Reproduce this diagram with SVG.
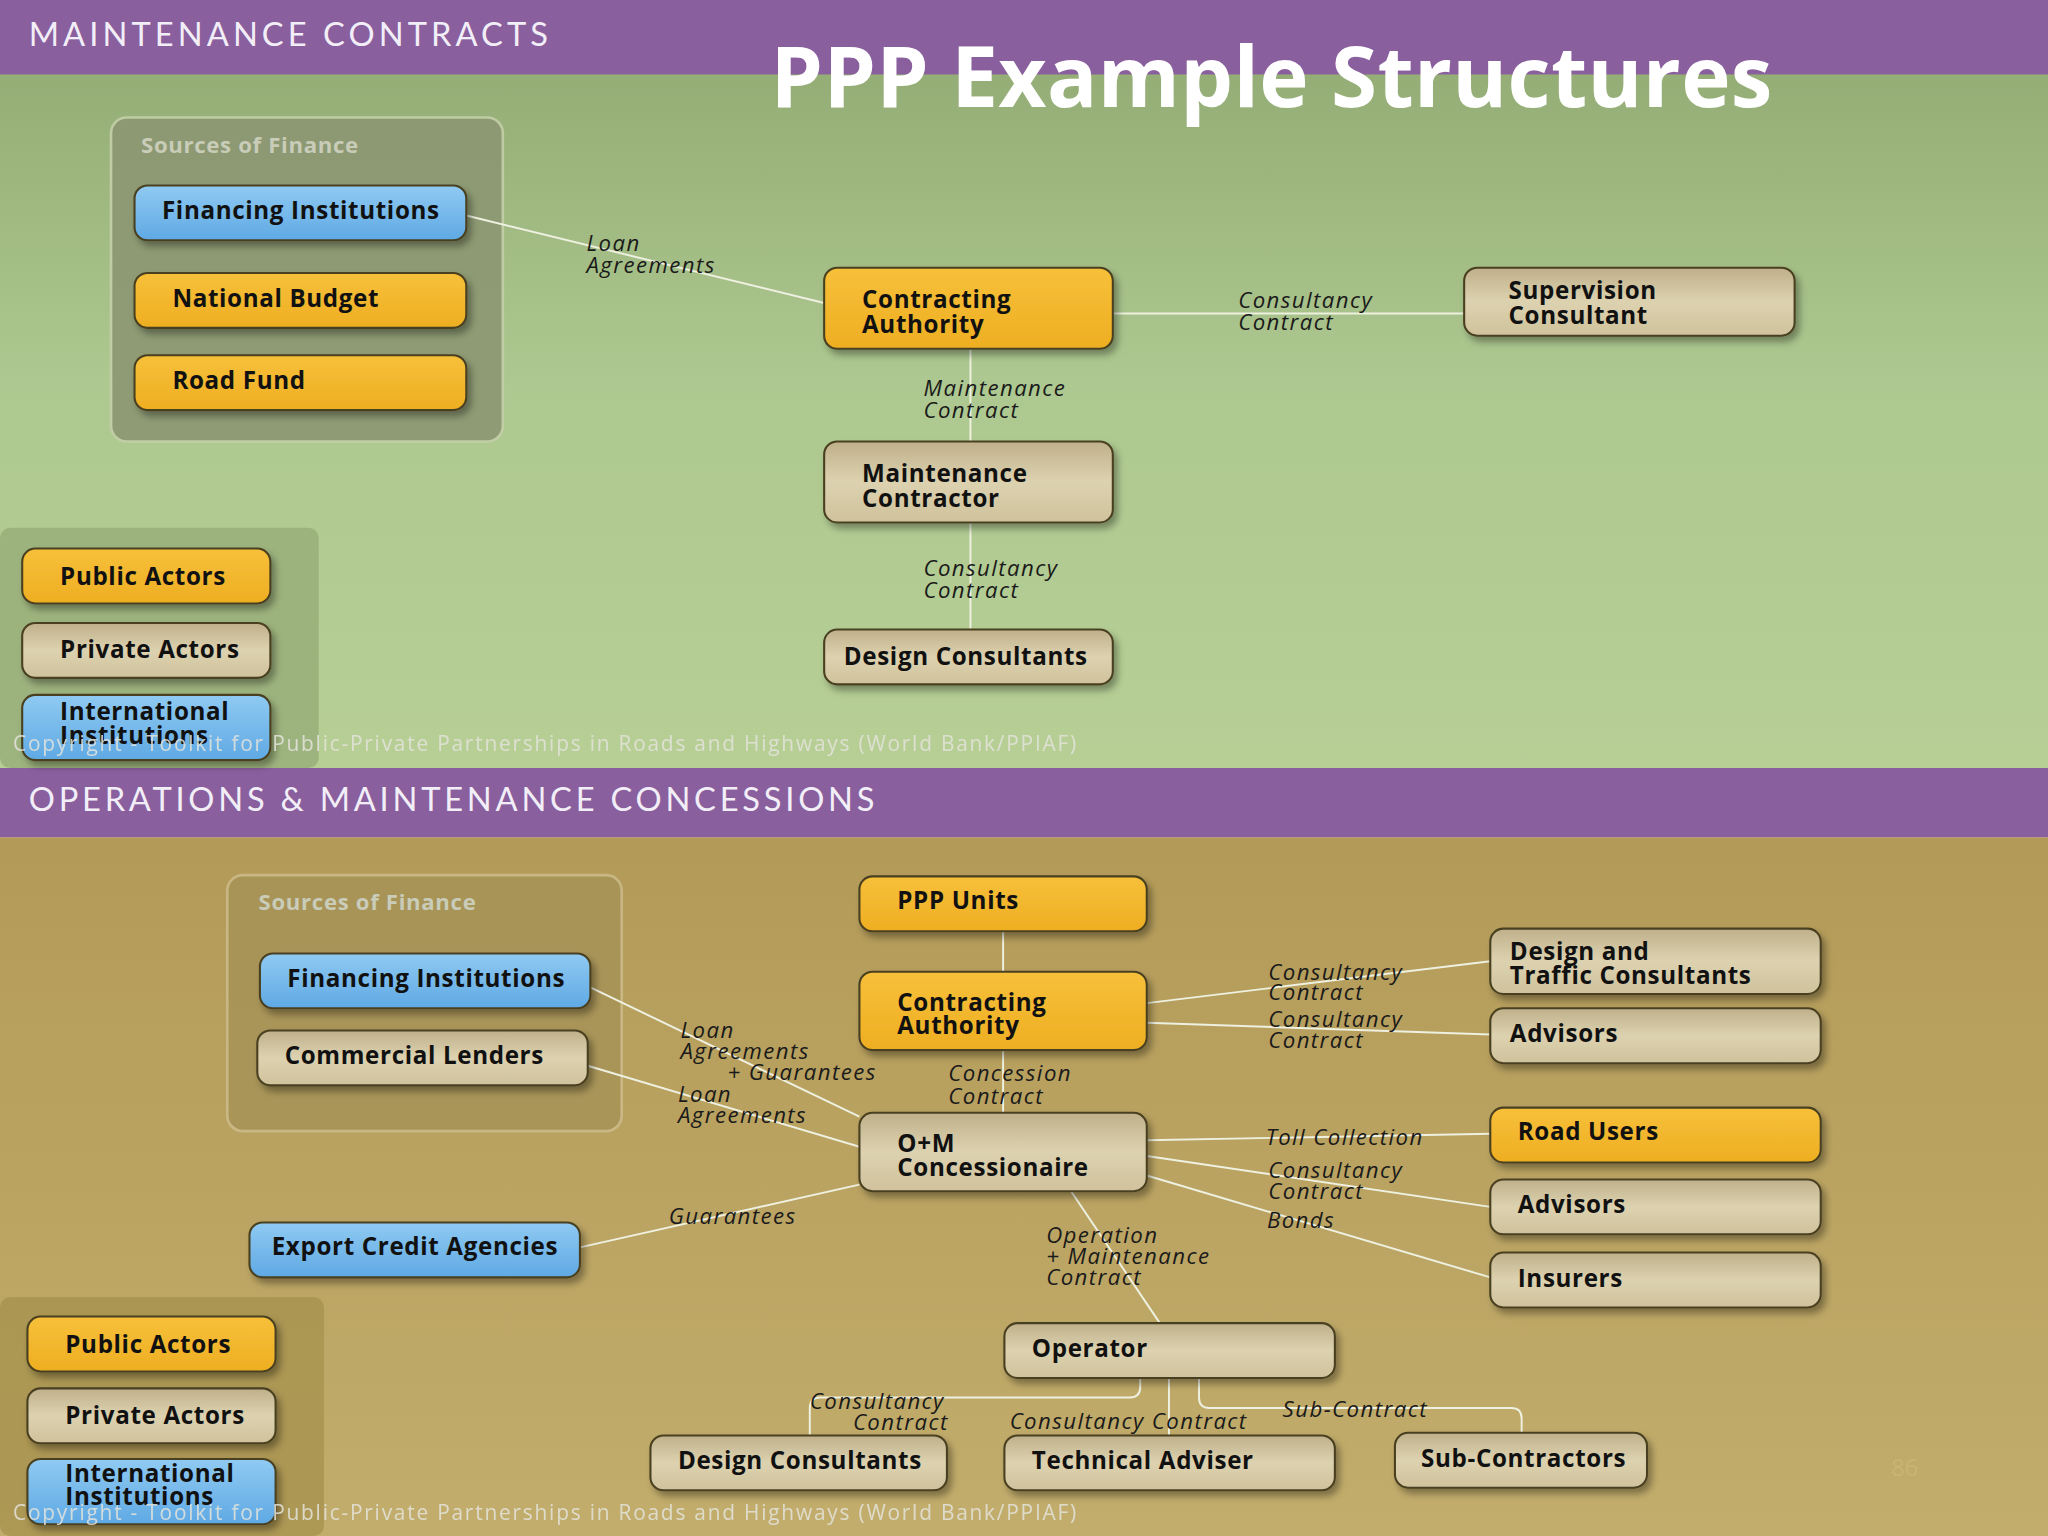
<svg xmlns="http://www.w3.org/2000/svg" width="2048" height="1536" viewBox="0 0 2048 1536">
<defs>
<linearGradient id="gTop" x1="0" y1="0" x2="0" y2="1"><stop offset="0" stop-color="#8fa770"/><stop offset="0.5" stop-color="#adc890"/><stop offset="1" stop-color="#b7cf95"/></linearGradient>
<linearGradient id="gBot" x1="0" y1="0" x2="0" y2="1"><stop offset="0" stop-color="#b39a58"/><stop offset="1" stop-color="#c2ad6c"/></linearGradient>
<linearGradient id="or" x1="0" y1="0" x2="0" y2="1"><stop offset="0" stop-color="#f7c03a"/><stop offset="1" stop-color="#eeae22"/></linearGradient>
<linearGradient id="bl" x1="0" y1="0" x2="0" y2="1"><stop offset="0" stop-color="#8fcaf2"/><stop offset="1" stop-color="#5fa9e4"/></linearGradient>
<linearGradient id="tn" x1="0" y1="0" x2="0" y2="1"><stop offset="0" stop-color="#bfb08a"/><stop offset="0.5" stop-color="#ddd2b0"/><stop offset="1" stop-color="#cfc29c"/></linearGradient>
<filter id="sh" x="-10%" y="-20%" width="130%" height="160%"><feDropShadow dx="3" dy="4" stdDeviation="3" flood-color="#000" flood-opacity="0.35"/></filter>
</defs>
<style>
.n rect{stroke:#4a4020;stroke-width:1.6;filter:url(#sh)}
.o rect{fill:url(#or)} .b rect{fill:url(#bl)} .t rect{fill:url(#tn)}
.n text{font-family:"Open Sans","Liberation Sans",sans-serif;font-weight:700;font-size:18.5px;letter-spacing:0.5px;fill:#111}
.c line,.c path{stroke:#eef0e0;stroke-width:1.5;fill:none}
.l{font-family:"Open Sans","Liberation Sans",sans-serif;font-style:italic;font-size:17px;letter-spacing:1.1px;fill:#1a1a1a}
.h{font-family:"Lato","Open Sans",sans-serif;font-size:25px;fill:#f2eef8;letter-spacing:0.5px}
.cp{font-family:"Open Sans","Liberation Sans",sans-serif;font-size:16px;fill:#e4e4dc;opacity:0.85}
.sf{font-family:"Open Sans","Liberation Sans",sans-serif;font-weight:700;font-size:17px;letter-spacing:0.5px;fill:#c8ccb8}
</style>
<g transform="scale(1.30612)">
<rect x="0" y="0" width="1568" height="588" fill="url(#gTop)"/>
<rect x="0" y="0" width="1568" height="57" fill="#8a5f9e"/>
<text class="h" x="22" y="35" textLength="398">MAINTENANCE CONTRACTS</text>
<rect x="0" y="641" width="1568" height="535" fill="url(#gBot)"/>
<rect x="0" y="588" width="1568" height="53" fill="#8a5f9e"/>
<text class="h" x="22" y="621" textLength="648">OPERATIONS &amp; MAINTENANCE CONCESSIONS</text>
<text x="590" y="82" font-family="'Open Sans','Liberation Sans',sans-serif" font-weight="700" font-size="64" fill="#fff" textLength="767">PPP Example Structures</text>

<rect x="85" y="90" width="300" height="248" rx="12" fill="#8c9772" stroke="#c4cfa8" stroke-width="2" opacity="0.9"/>
<text class="sf" x="108" y="117">Sources of Finance</text>
<rect x="0" y="404" width="244" height="184" rx="8" fill="#97ad78" opacity="0.8"/>
<rect x="174" y="670" width="302" height="196" rx="12" fill="#a89458" stroke="#cbbb88" stroke-width="2" opacity="0.9"/>
<text class="sf" x="198" y="697" fill="#d8ceb0">Sources of Finance</text>
<rect x="0" y="993" width="248" height="183" rx="8" fill="#a8924f" opacity="0.8"/>

<g class="c" id="connectors">
<line x1="357" y1="165" x2="631" y2="232"/>
<line x1="852" y1="240" x2="1121" y2="240"/>
<line x1="743" y1="267" x2="743" y2="338"/>
<line x1="743" y1="400" x2="743" y2="482"/>
<line x1="768" y1="713" x2="768" y2="744"/>
<line x1="878" y1="768" x2="1141" y2="736"/>
<line x1="878" y1="783" x2="1141" y2="792"/>
<line x1="768" y1="804" x2="768" y2="852"/>
<line x1="452" y1="756" x2="658" y2="855"/>
<line x1="450" y1="816" x2="658" y2="878"/>
<line x1="444" y1="955" x2="658" y2="907"/>
<line x1="878" y1="873" x2="1141" y2="868"/>
<line x1="878" y1="885" x2="1141" y2="924"/>
<line x1="878" y1="900" x2="1141" y2="978"/>
<line x1="820" y1="912" x2="888" y2="1013"/>
<path d="M873 1055 V1062 Q873 1070 865 1070 H628 Q620 1070 620 1078 V1099"/>
<line x1="895" y1="1055" x2="895" y2="1099"/>
<path d="M918 1055 V1070 Q918 1078 926 1078 H1157 Q1165 1078 1165 1086 V1097"/>
</g>
<text class="l" x="449" y="192">Loan</text><text class="l" x="449" y="209">Agreements</text>
<text class="l" x="948" y="236">Consultancy</text><text class="l" x="948" y="253">Contract</text>
<text class="l" x="707" y="303">Maintenance</text><text class="l" x="707" y="320">Contract</text>
<text class="l" x="707" y="441">Consultancy</text><text class="l" x="707" y="458">Contract</text>
<text class="l" x="971" y="750">Consultancy</text><text class="l" x="971" y="766">Contract</text>
<text class="l" x="971" y="786">Consultancy</text><text class="l" x="971" y="802">Contract</text>
<text class="l" x="726" y="828">Concession</text><text class="l" x="726" y="845">Contract</text>
<text class="l" x="521" y="795">Loan</text><text class="l" x="521" y="811">Agreements</text><text class="l" x="557" y="827">+ Guarantees</text>
<text class="l" x="519" y="844">Loan</text><text class="l" x="519" y="860">Agreements</text>
<text class="l" x="512" y="937">Guarantees</text>
<text class="l" x="969" y="877">Toll Collection</text>
<text class="l" x="971" y="902">Consultancy</text><text class="l" x="971" y="918">Contract</text>
<text class="l" x="970" y="940">Bonds</text>
<text class="l" x="801" y="952">Operation</text><text class="l" x="801" y="968">+ Maintenance</text><text class="l" x="801" y="984">Contract</text>
<text class="l" x="620" y="1079">Consultancy</text><text class="l" x="653" y="1095">Contract</text>
<text class="l" x="773" y="1094">Consultancy Contract</text>
<text class="l" x="982" y="1085">Sub-Contract</text>

<g id="t-fi" class="n b"><rect x="103" y="142" width="254" height="42" rx="10"/><text x="124" y="168">Financing Institutions</text></g>
<g id="t-nb" class="n o"><rect x="103" y="209" width="254" height="42" rx="10"/><text x="132" y="235">National Budget</text></g>
<g id="t-rf" class="n o"><rect x="103" y="272" width="254" height="42" rx="10"/><text x="132" y="298">Road Fund</text></g>
<g id="t-ca" class="n o"><rect x="631" y="205" width="221" height="62" rx="10"/><text x="660" y="236">Contracting</text><text x="660" y="255">Authority</text></g>
<g id="t-sc" class="n t"><rect x="1121" y="205" width="253" height="52" rx="10"/><text x="1155" y="229">Supervision</text><text x="1155" y="248">Consultant</text></g>
<g id="t-mc" class="n t"><rect x="631" y="338" width="221" height="62" rx="10"/><text x="660" y="369">Maintenance</text><text x="660" y="388">Contractor</text></g>
<g id="t-dc" class="n t"><rect x="631" y="482" width="221" height="42" rx="10"/><text x="646" y="509">Design Consultants</text></g>
<g id="t-pa" class="n o"><rect x="17" y="420" width="190" height="42" rx="10"/><text x="46" y="448">Public Actors</text></g>
<g id="t-pr" class="n t"><rect x="17" y="477" width="190" height="42" rx="10"/><text x="46" y="504">Private Actors</text></g>
<g id="t-ii" class="n b"><rect x="17" y="532" width="190" height="50" rx="10"/><text x="46" y="551">International</text><text x="46" y="570">Institutions</text></g>
<text class="cp" x="10" y="575" textLength="814">Copyright - Toolkit for Public-Private Partnerships in Roads and Highways (World Bank/PPIAF)</text>

<g id="b-fi" class="n b"><rect x="199" y="730" width="253" height="42" rx="10"/><text x="220" y="756">Financing Institutions</text></g>
<g id="b-cl" class="n t"><rect x="197" y="789" width="253" height="42" rx="10"/><text x="218" y="815">Commercial Lenders</text></g>
<g id="b-ppp" class="n o"><rect x="658" y="671" width="220" height="42" rx="10"/><text x="687" y="696">PPP Units</text></g>
<g id="b-ca" class="n o"><rect x="658" y="744" width="220" height="60" rx="10"/><text x="687" y="774">Contracting</text><text x="687" y="792">Authority</text></g>
<g id="b-dtc" class="n t"><rect x="1141" y="711" width="253" height="50" rx="10"/><text x="1156" y="735">Design and</text><text x="1156" y="753">Traffic Consultants</text></g>
<g id="b-adv1" class="n t"><rect x="1141" y="772" width="253" height="42" rx="10"/><text x="1156" y="798">Advisors</text></g>
<g id="b-om" class="n t"><rect x="658" y="852" width="220" height="60" rx="10"/><text x="687" y="882">O+M</text><text x="687" y="900">Concessionaire</text></g>
<g id="b-ru" class="n o"><rect x="1141" y="848" width="253" height="42" rx="10"/><text x="1162" y="873">Road Users</text></g>
<g id="b-adv2" class="n t"><rect x="1141" y="903" width="253" height="42" rx="10"/><text x="1162" y="929">Advisors</text></g>
<g id="b-ins" class="n t"><rect x="1141" y="959" width="253" height="42" rx="10"/><text x="1162" y="985">Insurers</text></g>
<g id="b-eca" class="n b"><rect x="191" y="936" width="253" height="42" rx="10"/><text x="208" y="961">Export Credit Agencies</text></g>
<g id="b-op" class="n t"><rect x="769" y="1013" width="253" height="42" rx="10"/><text x="790" y="1039">Operator</text></g>
<g id="b-dc" class="n t"><rect x="498" y="1099" width="227" height="42" rx="10"/><text x="519" y="1125">Design Consultants</text></g>
<g id="b-ta" class="n t"><rect x="769" y="1099" width="253" height="42" rx="10"/><text x="790" y="1125">Technical Adviser</text></g>
<g id="b-sub" class="n t"><rect x="1068" y="1097" width="193" height="42" rx="10"/><text x="1088" y="1123">Sub-Contractors</text></g>
<g id="b-pa" class="n o"><rect x="21" y="1008" width="190" height="42" rx="10"/><text x="50" y="1036">Public Actors</text></g>
<g id="b-pr" class="n t"><rect x="21" y="1063" width="190" height="42" rx="10"/><text x="50" y="1090">Private Actors</text></g>
<g id="b-ii" class="n b"><rect x="21" y="1117" width="190" height="50" rx="10"/><text x="50" y="1135">International</text><text x="50" y="1152">Institutions</text></g>
<text class="cp" x="10" y="1164" textLength="814">Copyright - Toolkit for Public-Private Partnerships in Roads and Highways (World Bank/PPIAF)</text>
<text x="1448" y="1130" font-family="'Open Sans',sans-serif" font-size="18" fill="#c9b476">86</text>
</g>
</svg>
